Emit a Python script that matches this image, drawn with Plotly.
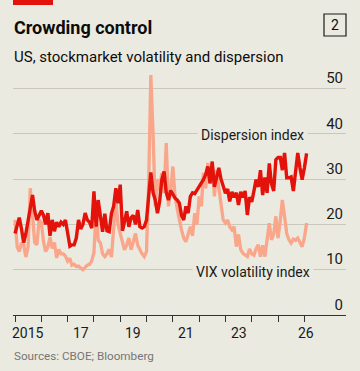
import plotly.graph_objects as go
import pandas as pd

# Monthly observations, Jan 2015 - Feb 2026
dates = pd.date_range("2015-01-01", periods=134, freq="MS")

dispersion = [
    18, 20, 21.5, 19, 16, 18, 21, 24, 26.5, 23, 21, 22,            # 2015
    23, 22, 20, 22.5, 17.5, 21, 18.5, 20.5, 19.5, 20.5, 20, 21,    # 2016
    18, 15.2, 15.5, 15.5, 17, 21, 19, 20, 22.5, 21, 20.5, 19.2,    # 2017
    27.3, 19.5, 25.4, 22, 18.4, 22.4, 18.6, 18.4, 22.4, 24, 28, 24.7,  # 2018
    28.8, 18.6, 21, 22.9, 19.5, 21.5, 22, 20, 23.2, 19.5, 19.2, 19.5,  # 2019
    21, 27, 31.5, 27, 25.4, 22.5, 25, 29.9, 31.7, 27, 25.4, 27.5,  # 2020
    26.5, 25.8, 25.4, 24.7, 22, 21, 24, 22.5, 26.2, 27, 26.8, 27.5,  # 2021
    28.3, 29, 29.9, 31, 32.8, 29.1, 33.9, 28.3, 30.5, 32.5, 30, 28.3,  # 2022
    26.9, 27.8, 25.1, 27.2, 26, 27, 24.3, 27.2, 26, 27.4, 22.1, 26,  # 2023
    25, 27.4, 29.9, 28.3, 32, 26.5, 30.4, 27, 33.5, 29, 27.4, 34.3,  # 2024
    34.8, 34.8, 32, 35.8, 30.3, 30.3, 30.5, 27.4, 31, 35.8, 32.5, 29.9,  # 2025
    32.5, 35.7,                                                    # 2026
]

vix = [
    21, 15, 14, 16, 15.5, 12.8, 15, 28, 22, 16, 15.5, 21,          # 2015
    20.5, 16.2, 14, 15, 17.2, 14.7, 16, 12.6, 14.5, 13.5, 13.5, 13,  # 2016
    11.9, 12.5, 11, 11.2, 10.7, 10.8, 10.4, 10, 10.5, 11, 11.2, 11.9,  # 2017
    13.8, 23.5, 16.6, 15.9, 13.5, 12.9, 13.5, 14.5, 12.8, 18.8, 25.4, 20,  # 2018
    18, 16.6, 14.4, 15.5, 17, 14.4, 16, 18, 15.4, 14.4, 13.5, 12.9,  # 2019
    14, 30, 53, 40, 24, 30, 27.5, 31.4, 27, 38, 24, 27.5,          # 2020
    32.8, 26, 23.2, 21, 18.8, 17, 16.2, 18, 19.5, 17.5, 22.5, 20,  # 2021
    26.2, 24, 31.4, 28, 33.6, 29, 33.6, 26.2, 32, 28, 24, 21,      # 2022
    20.3, 21, 19.5, 18.8, 19.5, 15.1, 17.8, 14.5, 13.6, 13.3, 12.9, 14.6,  # 2023
    13.5, 13.2, 14.6, 15.5, 12.9, 15.4, 12.9, 16.6, 20.3, 16.6, 17.8, 21.8,  # 2024
    17, 21, 25.4, 21.8, 18, 16.6, 15.9, 16.8, 16.5, 17, 15.9, 15.1,  # 2025
    17, 20.3,                                                      # 2026
]

y_ticks = [0, 10, 20, 30, 40, 50]
year_ticks = [f"{y}-01-01" for y in range(2015, 2027)]
x_labels = ["2015", "17", "19", "21", "23", "26"]
x_label_pos = ["2015-07-02", "2017-07-02", "2019-07-02", "2021-07-02", "2023-07-02", "2026-01-25"]

BG = "#ebeae0"
RED = "#e3120b"
LIGHT = "#f9a68a"
FONT = "Roboto"

fig = go.Figure()
fig.add_trace(go.Scatter(x=dates, y=vix, mode="lines",
                         line=dict(color=LIGHT, width=3.3), hoverinfo="skip"))
fig.add_trace(go.Scatter(x=dates, y=dispersion, mode="lines",
                         line=dict(color=RED, width=3.4), hoverinfo="skip"))

fig.update_layout(
    width=360, height=371,
    margin=dict(l=13, r=14, t=66, b=56),
    paper_bgcolor=BG, plot_bgcolor=BG,
    showlegend=False,
    font=dict(family=FONT, color="#1a1a1a", size=14),
    xaxis=dict(
        type="date",
        range=["2014-12-04", "2027-08-02"],
        tickvals=year_ticks, ticktext=[""] * len(year_ticks),
        ticks="outside", ticklen=6, tickwidth=1, tickcolor="#333333",
        showline=True, linecolor="#333333", linewidth=1.3,
        showgrid=False, zeroline=False,
    ),
    yaxis=dict(
        range=[0, 55], side="right",
        tickvals=y_ticks,
        ticklabelposition="inside top",
        showgrid=True, gridcolor="#c9c7be", gridwidth=1,
        zeroline=False, showline=False, ticks="",
        tickfont=dict(family=FONT, size=15, color="#1a1a1a"),
    ),
)


def px_x(p):
    return (p - 13) / 333


def px_y(p):
    return (315 - p) / 249


shapes = [
    dict(type="rect", xref="paper", yref="paper",
         x0=px_x(13), x1=px_x(53), y0=px_y(5), y1=px_y(0),
         fillcolor=RED, line=dict(width=0), layer="above"),
    dict(type="rect", xref="paper", yref="paper",
         x0=px_x(324), x1=px_x(346), y0=px_y(36), y1=px_y(14),
         fillcolor="rgba(0,0,0,0)", line=dict(color="#1a1a1a", width=1.2)),
]
fig.update_layout(shapes=shapes)

ann = [
    dict(text="<b>Crowding control</b>", x=px_x(12), y=px_y(27), xref="paper", yref="paper",
         xanchor="left", yanchor="middle", showarrow=False,
         font=dict(family=FONT, size=18, color="#0c0c0c")),
    dict(text="US, stockmarket volatility and dispersion", x=px_x(12), y=px_y(57),
         xref="paper", yref="paper", xanchor="left", yanchor="middle", showarrow=False,
         font=dict(family=FONT, size=15, color="#0c0c0c")),
    dict(text="2", x=px_x(335), y=px_y(25), xref="paper", yref="paper",
         xanchor="center", yanchor="middle", showarrow=False,
         font=dict(family=FONT, size=14, color="#0c0c0c")),
    dict(text="Dispersion index", x="2024-01-15", y=39.8, xref="x", yref="y",
         xanchor="center", yanchor="middle", showarrow=False, bgcolor=BG, borderpad=3,
         font=dict(family=FONT, size=14, color="#1a1a1a")),
    dict(text="VIX volatility index", x="2024-01-15", y=9.6, xref="x", yref="y",
         xanchor="center", yanchor="middle", showarrow=False, bgcolor=BG, borderpad=3,
         font=dict(family=FONT, size=14, color="#1a1a1a")),
    dict(text="Sources: CBOE; Bloomberg", x=px_x(12), y=px_y(356), xref="paper", yref="paper",
         xanchor="left", yanchor="middle", showarrow=False,
         font=dict(family=FONT, size=11.7, color="#767676")),
]
for lab, pos in zip(x_labels, x_label_pos):
    ann.append(dict(text=lab, x=pos, y=px_y(333), xref="x", yref="paper",
                    xanchor="center", yanchor="middle", showarrow=False,
                    font=dict(family=FONT, size=14, color="#1a1a1a")))
fig.update_layout(annotations=ann)

fig.write_html("out.html", config={"displayModeBar": False, "staticPlot": True},
               post_script="document.body.style.margin='0';")
